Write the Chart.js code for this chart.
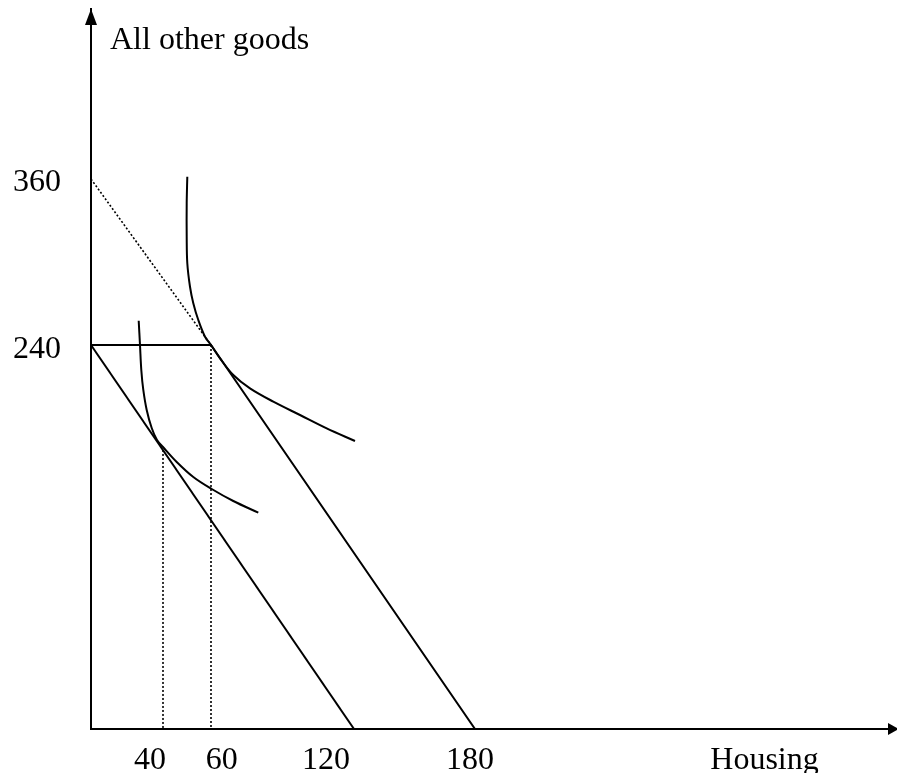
<!DOCTYPE html>
<html lang="en">
<head>
    <meta charset="UTF-8">
    <title>Housing vs all other goods</title>
    <script src="https://cdn.jsdelivr.net/npm/chart.js"></script>
    <style>
        body {
            margin: 0;
            background-color: #fff;
        }
        .wrap {
            width: 897px;
            height: 773px;
        }
    </style>
</head>
<body>
    <div class="wrap">
        <canvas id="myChart" width="897" height="773"></canvas>
    </div>

    <script>
    // data (drawing units, not to exact scale)
    const budgetKinked = [[0, 240], [60, 240], [192, 0]];
    const budgetLower = [[0, 240], [131.5, 0]];
    const tangentDotted = [[0, 343.75], [60, 240]];
    const dropAt60 = [[60, 240], [60, 0]];
    const dropAt40 = [[36, 174.4], [36, 0]];
    const curveHigh = [[48.15, 345.2], [47.85, 328.6], [47.85, 307.7], [48.15, 291.1], [49.5, 276.4],
        [51.15, 266.1], [53.65, 255.6], [57, 245.2], [60, 240], [64.5, 231.7], [71.15, 221.25],
        [79.5, 212.9], [91.15, 204.6], [104.5, 196.25], [117.85, 187.9], [132, 180]];
    const curveLow = [[23.85, 255.2], [24.5, 240], [25.15, 224.4], [26.15, 211.9], [27.85, 199.4],
        [30.35, 188.1], [33, 180.6], [36, 176.25], [42.85, 166.9], [51.15, 157.5], [60.35, 150],
        [71.15, 142.5], [83.65, 135.2]];

    // tick labels and where they sit on the axes
    const xTickAt = [29.5, 65.4, 117.5, 189.5, 336.75];
    const xTickLabels = ['40', '60', '120', '180', 'Housing'];
    const yTickAt = [341.25, 236.9];
    const yTickLabels = ['360', '240'];
    const yAxisName = 'All other goods';

    const serif = '"Liberation Serif", "DejaVu Serif", serif';

    function pts(arr) {
        return arr.map(p => ({ x: p[0], y: p[1] }));
    }

    function solid(arr, curved) {
        return {
            data: pts(arr),
            showLine: true,
            borderColor: '#000',
            borderWidth: 2,
            pointRadius: 0,
            tension: curved ? 0.35 : 0
        };
    }

    function dotted(arr) {
        return {
            data: pts(arr),
            showLine: true,
            borderColor: '#000',
            borderWidth: 1.6,
            borderDash: [2, 2],
            pointRadius: 0,
            tension: 0
        };
    }

    // chart.js adds room for half a label at the ends, we don't want it
    function noPad(s) {
        s.paddingTop = 0;
        s.paddingBottom = 0;
        s.paddingLeft = 0;
        s.paddingRight = 0;
    }

    // arrow heads + the y axis name
    const axisExtras = {
        id: 'axisExtras',
        afterDraw(chart) {
            const ctx = chart.ctx;
            const a = chart.chartArea;
            ctx.save();
            ctx.fillStyle = '#000';
            ctx.beginPath();
            ctx.moveTo(a.left, a.top);
            ctx.lineTo(a.left - 6, a.top + 16);
            ctx.lineTo(a.left + 6, a.top + 16);
            ctx.closePath();
            ctx.fill();
            ctx.beginPath();
            ctx.moveTo(a.right + 2, a.bottom);
            ctx.lineTo(a.right - 9, a.bottom - 6);
            ctx.lineTo(a.right - 9, a.bottom + 6);
            ctx.closePath();
            ctx.fill();
            ctx.font = '32px ' + serif;
            ctx.textBaseline = 'alphabetic';
            ctx.textAlign = 'left';
            ctx.fillText(yAxisName, a.left + 19, 49);
            ctx.restore();
        }
    };

    new Chart(document.getElementById('myChart'), {
        type: 'scatter',
        data: {
            datasets: [
                solid(budgetKinked),
                solid(budgetLower),
                dotted(tangentDotted),
                dotted(dropAt60),
                dotted(dropAt40),
                solid(curveHigh, true),
                solid(curveLow, true)
            ]
        },
        options: {
            responsive: false,
            animation: false,
            layout: { padding: { top: 9, right: 0, bottom: 0, left: 0 } },
            plugins: {
                legend: { display: false },
                tooltip: { enabled: false }
            },
            scales: {
                x: {
                    type: 'linear',
                    min: 0,
                    max: 403,
                    grid: { display: false, drawTicks: false },
                    border: { display: true, color: '#000', width: 2 },
                    afterBuildTicks: s => { s.ticks = xTickAt.map(v => ({ value: v })); },
                    afterFit: s => { s.height = 44; noPad(s); },
                    ticks: {
                        autoSkip: false,
                        maxRotation: 0,
                        padding: 12,
                        color: '#000',
                        font: { family: serif, size: 32 },
                        callback: (v, i) => xTickLabels[i]
                    }
                },
                y: {
                    type: 'linear',
                    min: 0,
                    max: 450,
                    grid: { display: false, drawTicks: false },
                    border: { display: true, color: '#000', width: 2 },
                    afterBuildTicks: s => { s.ticks = yTickAt.map(v => ({ value: v })); },
                    afterFit: s => { s.width = 91; noPad(s); },
                    ticks: {
                        autoSkip: false,
                        padding: 30,
                        color: '#000',
                        font: { family: serif, size: 32 },
                        callback: (v, i) => yTickLabels[i]
                    }
                }
            }
        },
        plugins: [axisExtras]
    });
    </script>
</body>
</html>
